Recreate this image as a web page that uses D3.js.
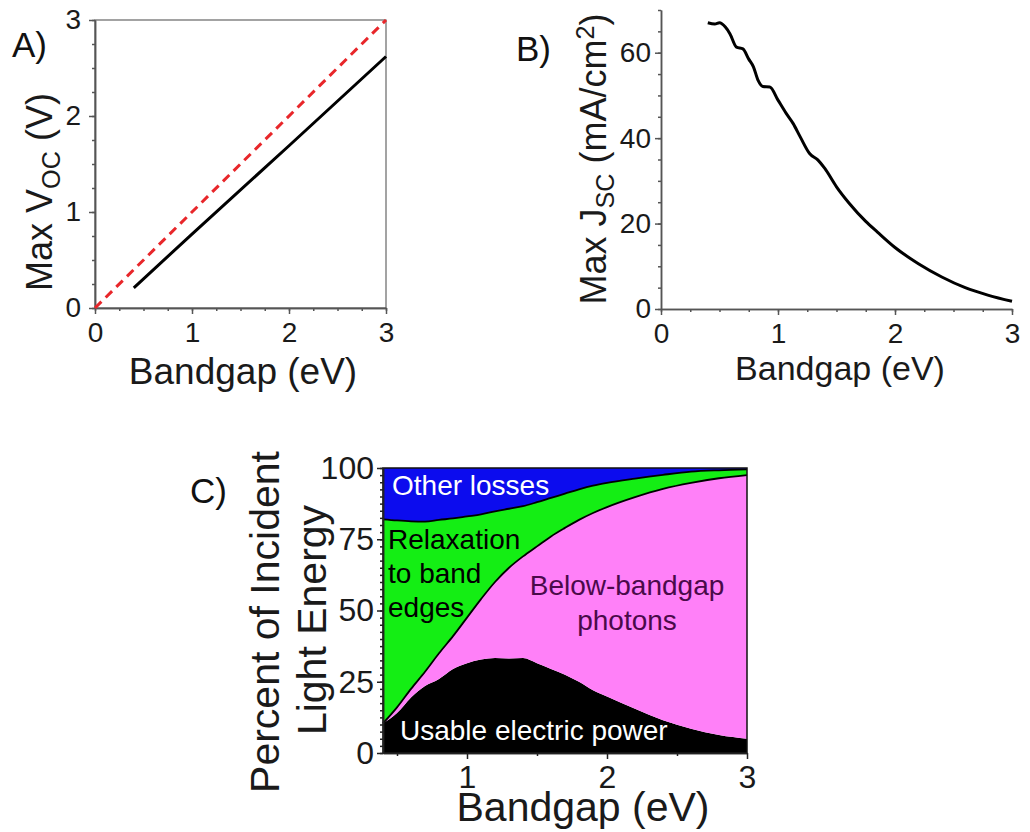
<!DOCTYPE html>
<html>
<head>
  <meta charset="UTF-8">
  <title>Bandgap limits</title>
  <style>
    body { margin: 0; background: #fff; }
    svg { font-family: "Liberation Sans", Arial, sans-serif; display: block; }
  </style>
</head>
<body>
<svg></svg>
<script src="https://d3js.org/d3.v7.min.js"></script>

<script>
    let width = 1030, height = 832;

    // A) max open-circuit voltage vs bandgap
    let gapA = [0.4, 1.0, 2.0, 3.0];
    let vocA = [0.21, 0.77, 1.69, 2.62];
    let idealGap = [0, 3];
    let idealVoc = [0, 3];

    // B) max short-circuit current vs bandgap
    let gapB = [0.40, 0.46, 0.50, 0.55, 0.59, 0.645, 0.70, 0.75, 0.79, 0.83, 0.87, 0.93, 1.00, 1.07, 1.13,
                1.19, 1.27, 1.34, 1.40, 1.50, 1.61, 1.75, 1.85, 2.00, 2.20, 2.40, 2.60, 2.80, 3.00];
    let jscB = [67.0, 66.7, 67.0, 66.0, 64.4, 61.3, 60.9, 58.5, 56.7, 53.5, 52.1, 52.0, 48.9, 45.8, 43.4,
                40.3, 36.4, 34.9, 32.9, 28.6, 24.7, 20.5, 18.0, 14.4, 10.6, 7.5, 5.0, 3.2, 1.8];

    // C) where the incident light energy goes (percent, stacked bottom to top)
    let gapC       = [0.4, 0.5, 0.6, 0.7, 0.8, 0.9, 1.0, 1.1, 1.2, 1.3, 1.4, 1.5, 1.6, 1.7, 1.8, 1.9, 2.0, 2.2, 2.4, 2.6, 2.8, 3.0];
    let usable     = [10.4, 14.0, 19.5, 23.5, 26.0, 29.5, 31.5, 32.8, 33.3, 33.2, 33.3, 31.5, 29.5, 27.5, 25.0, 22.0, 19.8, 15.5, 11.5, 8.5, 6.3, 5.0];
    let belowGap   = [0.0, 2.0, 3.0, 5.0, 9.0, 11.5, 16.0, 21.2, 26.7, 31.8, 35.7, 41.0, 46.5, 51.5, 56.8, 62.2, 66.5, 74.3, 81.2, 86.3, 90.1, 92.5];
    let relaxation = [71.6, 65.6, 58.8, 52.7, 46.8, 41.3, 35.5, 29.7, 24.8, 20.7, 17.6, 15.5, 13.5, 12.0, 10.7, 9.6, 8.5, 6.5, 4.9, 3.9, 2.8, 2.0];
    let otherLoss  = [18.0, 18.4, 18.7, 18.8, 18.2, 17.7, 17.0, 16.3, 15.2, 14.3, 13.4, 12.0, 10.5, 9.0, 7.5, 6.2, 5.2, 3.7, 2.4, 1.3, 0.8, 0.5];
    let layerKeys = ["usable", "below", "relax", "other"];
    let layerColors = ["#000000", "#ff80f8", "#14ee14", "#0c0cee"];

    // ticks
    let ticksA = [0, 1, 2, 3];
    let minorA = d3.range(0, 3.01, 0.25);
    let ticksBy = [0, 20, 40, 60];
    let minorBy = d3.range(0, 70.1, 5);
    let ticksCx = [1, 2, 3];
    let minorCx = [0.5, 1.5, 2.5];
    let ticksCy = [0, 25, 50, 75, 100];
    let minorCy = d3.range(0, 100.1, 2.5);

    let svg = d3.select("svg")
        .attr("width", width)
        .attr("height", height);

    // draws left + bottom axes with minor ticks
    function drawAxes(g, x, y, o) {
        let y0 = y.range()[0], x0 = x.range()[0];
        let bx = g.append("g").attr("transform", "translate(0," + y0 + ")");
        bx.call(d3.axisBottom(x).tickValues(o.xMinor).tickSize(3).tickSizeOuter(0).tickFormat(""));
        bx.append("g").call(d3.axisBottom(x).tickValues(o.xTicks).tickSize(6).tickSizeOuter(0).tickPadding(o.xPad).tickFormat(d3.format("d")));
        let by = g.append("g").attr("transform", "translate(" + x0 + ",0)");
        by.call(d3.axisLeft(y).tickValues(o.yMinor).tickSize(3).tickSizeOuter(0).tickFormat(""));
        by.append("g").call(d3.axisLeft(y).tickValues(o.yTicks).tickSize(6).tickSizeOuter(0).tickPadding(o.yPad).tickFormat(d3.format("d")));

        g.selectAll(".domain, .tick line").attr("stroke", o.color).attr("stroke-width", 1.5);
        g.selectAll(".tick text")
            .attr("font-family", "Liberation Sans, Arial, sans-serif")
            .attr("font-size", o.font)
            .attr("fill", "#1a1a1a");
    }

    function hLabel(g, txt, x, y, size) {
        return g.append("text")
            .attr("x", x).attr("y", y)
            .attr("text-anchor", "middle")
            .attr("font-size", size)
            .attr("fill", "#1a1a1a")
            .text(txt);
    }

    function vLabel(g, x, y, size) {
        return g.append("text")
            .attr("transform", "translate(" + x + "," + y + ") rotate(-90)")
            .attr("text-anchor", "middle")
            .attr("font-size", size)
            .attr("fill", "#1a1a1a");
    }

    // ---------- A ----------
    let xA = d3.scaleLinear().domain([0, 3]).range([95, 386]);
    let yA = d3.scaleLinear().domain([0, 3]).range([308, 20]);
    let gA = svg.append("g");

    gA.append("rect")
        .attr("x", xA(0)).attr("y", yA(3))
        .attr("width", xA(3) - xA(0)).attr("height", yA(0) - yA(3))
        .attr("fill", "none").attr("stroke", "#666").attr("stroke-width", 1.2);

    drawAxes(gA, xA, yA, {xTicks: ticksA, xMinor: minorA, yTicks: ticksA, yMinor: minorA,
        xPad: 8, yPad: 8, font: 28, color: "#555"});

    let lineA = d3.line().x(d => xA(d[0])).y(d => yA(d[1]));
    gA.append("path")
        .attr("d", lineA(d3.zip(idealGap, idealVoc)))
        .attr("fill", "none").attr("stroke", "#e8262a").attr("stroke-width", 3)
        .attr("stroke-dasharray", "9,6");
    gA.append("path")
        .attr("d", lineA(d3.zip(gapA, vocA)))
        .attr("fill", "none").attr("stroke", "#000").attr("stroke-width", 3);

    hLabel(gA, "Bandgap (eV)", 243, 384, 37);
    let tA = vLabel(gA, 52, 192, 36);
    tA.append("tspan").text("Max V");
    tA.append("tspan").attr("font-size", "70%").attr("dy", "0.3em").text("OC");
    tA.append("tspan").attr("dy", "-0.2em").text(" (V)");

    svg.append("text").attr("x", 12).attr("y", 57).attr("font-size", 35).attr("fill", "#111").text("A)");

    // ---------- B ----------
    let xB = d3.scaleLinear().domain([0, 3]).range([661, 1012]);
    let yB = d3.scaleLinear().domain([0, 70]).range([309, 10]);
    let gB = svg.append("g");

    drawAxes(gB, xB, yB, {xTicks: ticksA, xMinor: minorA, yTicks: ticksBy, yMinor: minorBy,
        xPad: 8, yPad: 4, font: 28, color: "#555"});

    let lineB = d3.line().x(d => xB(d[0])).y(d => yB(d[1])).curve(d3.curveMonotoneX);
    gB.append("path")
        .attr("d", lineB(d3.zip(gapB, jscB)))
        .attr("fill", "none").attr("stroke", "#000").attr("stroke-width", 3);

    hLabel(gB, "Bandgap (eV)", 840, 380, 34);
    let tB = vLabel(gB, 606, 159, 36);
    tB.append("tspan").text("Max J");
    tB.append("tspan").attr("font-size", "70%").attr("dy", "0.3em").text("SC");
    tB.append("tspan").attr("dy", "-0.2em").text(" (mA/cm");
    tB.append("tspan").attr("font-size", "70%").attr("dy", "-0.5em").text("2");
    tB.append("tspan").attr("dy", "0.35em").text(")");

    svg.append("text").attr("x", 516).attr("y", 61).attr("font-size", 35).attr("fill", "#111").text("B)");

    // ---------- C ----------
    let xC = d3.scaleLinear().domain([0.4, 3]).range([383, 747]);
    let yC = d3.scaleLinear().domain([0, 100]).range([753, 468]);
    let gC = svg.append("g");

    let tableC = gapC.map((g, i) => ({gap: g, usable: usable[i], below: belowGap[i], relax: relaxation[i], other: otherLoss[i]}));
    let series = d3.stack().keys(layerKeys)(tableC);

    let areaC = d3.area()
        .x(d => xC(d.data.gap))
        .y0(d => yC(d[0]))
        .y1(d => yC(d[1]))
        .curve(d3.curveMonotoneX);

    gC.selectAll("path.layer")
        .data(series)
        .enter()
        .append("path")
        .attr("class", "layer")
        .attr("d", areaC)
        .attr("fill", (d, i) => layerColors[i]);

    // thin outlines on the boundaries
    let edgeC = d3.line().x(d => xC(d.data.gap)).y(d => yC(d[1])).curve(d3.curveMonotoneX);
    gC.selectAll("path.edge")
        .data([series[1], series[2]])
        .enter()
        .append("path")
        .attr("class", "edge")
        .attr("d", edgeC)
        .attr("fill", "none").attr("stroke", "#000").attr("stroke-width", 1.8);

    gC.append("rect")
        .attr("x", xC(0.4)).attr("y", yC(100))
        .attr("width", xC(3) - xC(0.4)).attr("height", yC(0) - yC(100))
        .attr("fill", "none").attr("stroke", "#111").attr("stroke-width", 1.5);

    drawAxes(gC, xC, yC, {xTicks: ticksCx, xMinor: minorCx, yTicks: ticksCy, yMinor: minorCy,
        xPad: 6, yPad: 3, font: 32, color: "#222"});

    let inText = (txt, x, y, fill, anchor) => gC.append("text")
        .attr("x", x).attr("y", y)
        .attr("font-size", 28)
        .attr("fill", fill)
        .attr("text-anchor", anchor || "start")
        .text(txt);

    inText("Other losses", 392, 495, "#fff");
    inText("Relaxation", 388, 549, "#000");
    inText("to band", 388, 583, "#000");
    inText("edges", 388, 617, "#000");
    inText("Below-bandgap", 627, 595, "#4a0a4a", "middle");
    inText("photons", 627, 630, "#4a0a4a", "middle");
    inText("Usable electric power", 400, 740, "#fff");

    hLabel(gC, "Bandgap (eV)", 583, 821, 41);
    vLabel(gC, 279, 622, 41).text("Percent of Incident");
    vLabel(gC, 326, 620, 41).text("Light Energy");

    svg.append("text").attr("x", 190).attr("y", 503).attr("font-size", 35).attr("fill", "#111").text("C)");
</script>

</body>
</html>
